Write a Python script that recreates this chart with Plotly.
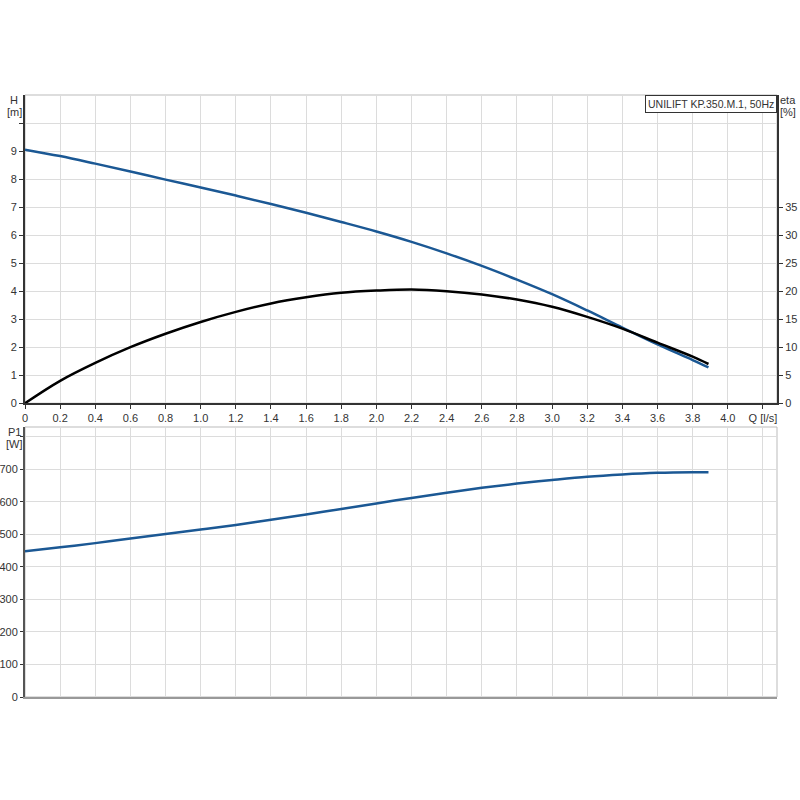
import plotly.graph_objects as go

# Valores
q = [0, 0.2, 0.4, 0.6, 0.8, 1.0, 1.2, 1.4, 1.6, 1.8, 2.0, 2.2, 2.4,
     2.6, 2.8, 3.0, 3.2, 3.4, 3.6, 3.8, 3.89]
h = [9.05, 8.82, 8.55, 8.27, 7.98, 7.70, 7.41, 7.11, 6.80, 6.47, 6.13, 5.76, 5.35,
     4.90, 4.41, 3.89, 3.31, 2.70, 2.10, 1.54, 1.28]
eta = [0, 4.0, 7.2, 10.0, 12.4, 14.5, 16.3, 17.8, 18.9, 19.7, 20.1, 20.3, 20.0,
       19.4, 18.5, 17.2, 15.4, 13.3, 10.8, 8.3, 7.0]
p1 = [448, 460, 473, 487, 501, 515, 529, 545, 561, 578, 595, 612, 628,
      643, 656, 667, 677, 684, 689, 691, 691]

q_ticks = [0, 0.2, 0.4, 0.6, 0.8, 1.0, 1.2, 1.4, 1.6, 1.8, 2.0, 2.2, 2.4,
           2.6, 2.8, 3.0, 3.2, 3.4, 3.6, 3.8, 4.0, 4.2]
q_text = ['0', '0.2', '0.4', '0.6', '0.8', '1.0', '1.2', '1.4', '1.6', '1.8', '2.0',
          '2.2', '2.4', '2.6', '2.8', '3.0', '3.2', '3.4', '3.6', '3.8', '4.0', 'Q [l/s]']
h_ticks = [0, 1, 2, 3, 4, 5, 6, 7, 8, 9, 10]
h_text = ['0', '1', '2', '3', '4', '5', '6', '7', '8', '9', '']
eta_ticks = [0, 5, 10, 15, 20, 25, 30, 35]
p_ticks = [0, 100, 200, 300, 400, 500, 600, 700, 800]
p_text = ['0', '100', '200', '300', '400', '500', '600', '700', '']

azul = '#1b5894'
grade = '#dcdcdc'
escuro = '#333333'
fonte = dict(family='Arial, Liberation Sans', size=11, color=escuro)

fig = go.Figure()

fig.add_trace(go.Scatter(x=q, y=h, mode='lines', line=dict(color=azul, width=2.5, shape='spline', smoothing=1),
                         xaxis='x', yaxis='y', showlegend=False))
fig.add_trace(go.Scatter(x=q, y=eta, mode='lines', line=dict(color='black', width=2.5, shape='spline', smoothing=1),
                         xaxis='x', yaxis='y2', showlegend=False))
fig.add_trace(go.Scatter(x=q, y=p1, mode='lines', line=dict(color=azul, width=2.5, shape='spline', smoothing=1),
                         xaxis='x2', yaxis='y3', showlegend=False))

eixo_x = dict(range=[0, 4.28], tickvals=q_ticks, showgrid=True, gridcolor=grade, gridwidth=1,
              zeroline=False, ticks='outside', ticklen=4, tickcolor=escuro, tickfont=fonte,
              automargin=False)

fig.update_layout(
    width=800, height=800,
    margin=dict(l=25, r=23, t=95, b=103),
    paper_bgcolor='white', plot_bgcolor='white',
    xaxis=dict(eixo_x, anchor='y', ticktext=q_text, showline=True, linecolor=escuro, linewidth=2),
    yaxis=dict(domain=[0.488, 1], range=[0, 11], tickvals=h_ticks, ticktext=h_text,
               showgrid=True, gridcolor=grade, zeroline=False, showline=True, linecolor=escuro,
               linewidth=2, ticks='outside', ticklen=4, tickcolor=escuro, tickfont=fonte,
               automargin=False),
    yaxis2=dict(overlaying='y', side='right', range=[0, 55], tickvals=eta_ticks,
                showgrid=False, zeroline=False, showline=True, linecolor=escuro, linewidth=2,
                ticks='outside', ticklen=4, tickcolor=escuro, tickfont=fonte, anchor='x',
                automargin=False),
    xaxis2=dict(eixo_x, anchor='y3', showticklabels=False, ticks='',
                showline=True, linecolor='#999999', linewidth=2),
    yaxis3=dict(domain=[0, 0.4485], range=[0, 830], tickvals=p_ticks, ticktext=p_text,
                showgrid=True, gridcolor=grade, zeroline=False, showline=True, linecolor='#555555',
                linewidth=2, ticks='outside', ticklen=3, tickcolor=escuro, tickfont=fonte,
                automargin=False),
)

# Bordas claras das duas áreas
for xr, yr in [('x domain', 'y domain'), ('x2 domain', 'y3 domain')]:
    fig.add_shape(type='rect', xref=xr, yref=yr, x0=0, x1=1, y0=0, y1=1,
                  line=dict(color='#bbbbbb', width=1), layer='below')

# Rótulos das unidades (posições em fração da área de plotagem)
rotulos = [('H', -0.0146, 0.9917), ('[m]', -0.0146, 0.9718),
           ('eta', 1.0146, 0.9917), ('[%]', 1.0146, 0.9718),
           ('P1', -0.0146, 0.4402), ('[W]', -0.0146, 0.4203)]
for texto, px, py in rotulos:
    fig.add_annotation(text=texto, xref='paper', yref='paper', x=px, y=py,
                       xanchor='center', yanchor='middle', showarrow=False, font=fonte)

fig.add_annotation(text='UNILIFT KP.350.M.1, 50Hz', xref='paper', yref='paper', x=1, y=1,
                   xanchor='right', yanchor='top', showarrow=False,
                   font=dict(family='Arial, Liberation Sans', size=10.5, color=escuro),
                   bordercolor=escuro, borderwidth=1, bgcolor='white', borderpad=2)

# Tira a margem padrão do body para a figura ocupar a janela inteira
fig.write_html('out.html', config={'displayModeBar': False},
               post_script="document.body.style.margin='0';document.body.style.overflow='hidden';")
